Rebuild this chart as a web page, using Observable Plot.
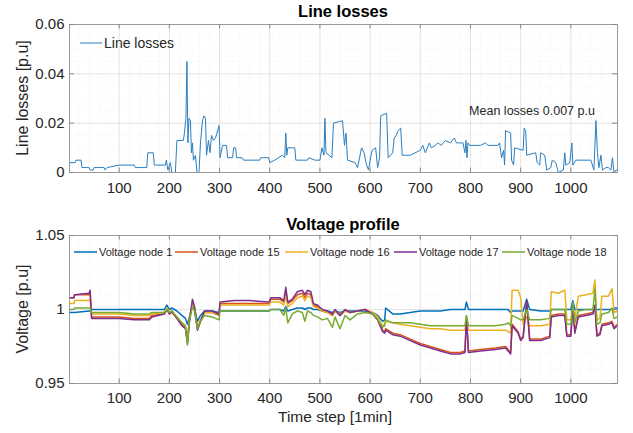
<!DOCTYPE html>
<html>
<head>
<meta charset="utf-8">
<script src="https://cdn.jsdelivr.net/npm/d3@7"></script>
<script src="https://cdn.jsdelivr.net/npm/@observablehq/plot@0.6"></script>
<style>
  html, body { margin: 0; padding: 0; background: #fff; }
  #chart { width: 633px; height: 433px; }
  #chart svg { display: block; }
</style>
</head>
<body>
<div id="chart"></div>
<script>
// ---------- DATA ----------
const xTicks = [100, 200, 300, 400, 500, 600, 700, 800, 900, 1000];
const lossTicks = [0, 0.02, 0.04, 0.06];
const voltTicks = [0.95, 1, 1.05];

const lossT = [1,12,14,24,26,40,42,48,50,70,72,76,100,130,132,155,157,168,170,192,194,197,202,205,212,215,228,230,233,235,237,239,242,244,246,248,252,255,259,262,266,269,272,274,278,281,284,288,292,299,301,306,314,316,326,328,332,334,345,348,380,382,398,400,410,425,430,432,434,436,450,452,475,478,490,500,504,508,510,512,524,527,545,549,552,555,570,575,578,583,588,593,597,600,604,611,615,619,621,633,636,645,648,652,656,661,664,680,700,705,710,718,722,730,735,742,750,760,768,772,785,789,791,793,795,798,820,830,835,855,858,862,866,868,870,880,882,886,888,905,907,910,912,930,933,938,940,948,952,960,963,970,975,985,988,990,998,1002,1004,1010,1040,1046,1050,1053,1056,1060,1063,1070,1075,1080,1083,1086,1090,1093];
const lossV = [0.004,0.004,0.005,0.005,0.002,0.002,0.001,0.001,0.002,0.002,0.001,0.002,0.003,0.003,0.002,0.002,0.008,0.008,0.003,0.003,0.005,0.001,0.004,0.0,0.0,0.013,0.013,0.016,0.022,0.045,0.012,0.022,0.021,0.008,0.012,0.005,0.007,0.0,0.0,0.012,0.021,0.023,0.022,0.007,0.013,0.008,0.015,0.013,0.014,0.019,0.006,0.011,0.011,0.006,0.006,0.010,0.010,0.006,0.006,0.005,0.005,0.006,0.006,0.004,0.005,0.007,0.006,0.016,0.007,0.010,0.010,0.005,0.005,0.006,0.005,0.005,0.010,0.007,0.022,0.008,0.006,0.020,0.021,0.011,0.016,0.005,0.004,0.002,0.005,0.010,0.008,0.003,0.001,0.005,0.009,0.010,0.002,0.006,0.023,0.024,0.006,0.008,0.014,0.015,0.017,0.018,0.007,0.007,0.009,0.011,0.008,0.012,0.010,0.011,0.012,0.011,0.013,0.012,0.014,0.012,0.012,0.008,0.013,0.006,0.012,0.011,0.011,0.012,0.011,0.011,0.012,0.006,0.009,0.003,0.017,0.016,0.005,0.003,0.010,0.009,0.018,0.017,0.007,0.008,0.004,0.003,0.008,0.007,0.001,0.002,0.005,0.004,0.0,0.001,0.008,0.003,0.004,0.012,0.003,0.005,0.005,0.001,0.021,0.008,0.002,0.007,0.001,0.002,0.002,0.001,0.006,0.0,0.001,0.001];

const voltT = [1,10,11,40,42,45,60,100,130,160,165,190,195,200,205,215,225,232,236,240,246,250,256,262,270,285,299,301,330,360,399,402,420,428,432,436,445,455,465,470,475,482,487,495,505,515,525,530,540,550,560,575,590,605,615,625,629,631,645,660,680,700,720,740,760,780,789,792,796,820,850,870,875,880,883,895,900,905,912,918,940,958,961,975,988,992,1000,1004,1008,1015,1030,1044,1048,1052,1058,1062,1075,1082,1086,1093];
const voltNode1 = [0.998,0.998,0.998,0.999,0.999,1.000,1.000,1.000,1.000,1.000,1.000,1.000,1.003,1.000,1.001,0.999,0.996,0.994,0.990,0.995,1.003,1.001,0.992,0.996,0.999,0.999,0.998,0.999,0.999,0.999,0.999,1.000,1.000,0.999,1.002,0.999,1.000,1.001,1.001,1.000,1.001,1.001,1.000,1.000,0.999,0.999,0.998,0.999,0.998,0.999,0.999,0.999,0.999,0.998,0.996,0.992,0.993,1.001,0.997,0.997,0.998,0.999,0.999,0.999,1.000,1.000,1.000,1.005,1.000,1.000,1.000,1.000,1.000,0.998,0.999,0.999,0.999,0.999,1.007,1.000,0.999,0.999,1.000,1.000,1.000,1.000,1.000,1.006,1.000,1.000,1.000,1.000,1.001,1.000,1.000,1.000,1.000,1.000,1.001,1.001];
const voltNode15 = [1.008,1.008,1.010,1.010,1.012,0.995,0.995,0.995,0.994,0.994,0.996,0.997,1.000,0.997,0.998,0.994,0.990,0.988,0.978,0.993,1.005,1.001,0.987,0.992,0.998,0.998,0.996,1.004,1.004,1.004,1.004,1.007,1.007,1.005,1.012,1.004,1.006,1.010,1.011,1.008,1.011,1.010,1.003,1.002,0.999,0.998,0.996,0.999,0.996,0.999,0.998,0.999,1.000,0.997,0.993,0.986,0.985,0.987,0.984,0.983,0.980,0.977,0.975,0.973,0.971,0.971,0.972,0.994,0.972,0.973,0.974,0.975,0.973,0.971,0.990,0.985,0.980,0.982,1.005,0.980,0.980,0.982,0.996,0.997,0.997,0.983,0.983,1.002,0.985,0.996,0.997,0.998,1.002,0.983,0.984,0.990,0.991,0.992,0.988,0.990];
const voltNode16 = [1.004,1.004,1.006,1.006,1.007,0.997,0.997,0.997,0.996,0.996,0.997,0.998,1.001,0.998,0.999,0.995,0.991,0.989,0.980,0.994,1.004,1.001,0.988,0.993,0.998,0.998,0.997,1.003,1.003,1.003,1.003,1.005,1.005,1.003,1.009,1.002,1.004,1.008,1.009,1.006,1.009,1.008,1.002,1.001,0.999,0.998,0.997,0.999,0.997,0.999,0.998,0.999,1.000,0.998,0.995,0.989,0.990,0.992,0.991,0.990,0.989,0.988,0.987,0.987,0.986,0.986,0.986,0.993,0.986,0.986,0.986,0.986,0.985,0.984,1.013,1.013,1.008,0.990,0.995,0.989,0.989,0.990,1.012,1.011,1.013,0.993,0.993,0.999,0.994,1.009,1.010,1.011,1.020,0.993,0.994,1.009,1.009,1.014,0.998,0.999];
const voltNode17 = [1.008,1.008,1.010,1.011,1.013,0.994,0.994,0.994,0.993,0.993,0.995,0.997,1.000,0.997,0.999,0.994,0.989,0.987,0.977,0.992,1.007,1.002,0.986,0.992,0.999,0.999,0.997,1.005,1.006,1.006,1.005,1.008,1.008,1.006,1.015,1.005,1.007,1.012,1.013,1.010,1.013,1.012,1.004,1.003,1.000,0.999,0.997,1.000,0.996,1.000,0.998,0.999,1.000,0.997,0.993,0.985,0.984,0.986,0.983,0.982,0.979,0.976,0.974,0.972,0.970,0.970,0.971,0.995,0.971,0.972,0.973,0.974,0.972,0.970,0.989,0.984,0.979,0.981,1.006,0.979,0.979,0.981,0.995,0.996,0.996,0.982,0.982,1.003,0.984,0.995,0.996,0.997,1.003,0.982,0.983,0.989,0.990,0.991,0.987,0.989];
const voltNode18 = [1.000,1.000,1.001,1.001,1.001,0.998,0.998,0.998,0.997,0.997,0.998,0.998,1.000,0.998,0.999,0.995,0.991,0.989,0.976,0.992,1.002,0.999,0.987,0.992,0.996,0.995,0.993,0.999,0.999,0.999,0.999,1.000,1.000,0.996,1.001,0.991,0.997,0.999,0.998,0.992,0.999,0.998,0.996,0.995,0.993,0.994,0.988,0.995,0.987,0.996,0.993,0.997,0.998,0.997,0.993,0.988,0.989,0.993,0.991,0.991,0.991,0.990,0.989,0.989,0.989,0.989,0.989,0.996,0.989,0.989,0.989,0.990,0.991,0.989,0.996,0.994,0.993,0.993,1.000,0.993,0.993,0.994,1.000,1.000,1.000,0.990,0.990,1.005,0.991,0.999,1.000,1.000,1.014,0.990,0.991,0.997,0.998,1.001,0.994,0.995];

const seriesNames = ["Voltage node 1", "Voltage node 15", "Voltage node 16", "Voltage node 17", "Voltage node 18"];
const seriesValues = [voltNode1, voltNode15, voltNode16, voltNode17, voltNode18];

// ---------- BUILD ----------
const colors = ["#0072BD", "#D95319", "#EDB120", "#7E2F8E", "#77AC30"];
const font = "'Liberation Sans', Arial, sans-serif";
const xDomain = [1, 1093];
const xMinor = d3.range(20, 1093, 20).filter(d => d % 100 !== 0);

const lossRows = lossT.map((t, i) => ({t, v: lossV[i]}));
const voltRows = seriesNames.flatMap((name, s) => voltT.map((t, i) => ({t, v: seriesValues[s][i], name})));

const fmt = d => String(+(+d).toFixed(3));
const gridMajor = {stroke: "#dcdcdc", strokeOpacity: 1, strokeWidth: 0.8};
const gridMinor = {stroke: "#ececec", strokeOpacity: 1, strokeWidth: 0.6, strokeDasharray: "1,1.5"};

function inTicks(yDom, yT) {
  const dy = (yDom[1] - yDom[0]) * 0.03;
  const dx = (xDomain[1] - xDomain[0]) * 0.009;
  return [
    Plot.ruleX(xTicks, {y1: yDom[0], y2: yDom[0] + dy, stroke: "#888"}),
    Plot.ruleX(xTicks, {y1: yDom[1], y2: yDom[1] - dy, stroke: "#888"}),
    Plot.ruleY(yT, {x1: xDomain[0], x2: xDomain[0] + dx, stroke: "#888"}),
    Plot.ruleY(yT, {x1: xDomain[1], x2: xDomain[1] - dx, stroke: "#888"})
  ];
}

const lossDom = [0, 0.06];
const p1 = Plot.plot({
  width: 633, height: 200,
  marginLeft: 69, marginRight: 16, marginTop: 24, marginBottom: 28,
  style: {fontFamily: font, fontSize: "15px", color: "#262626", background: "white"},
  x: {domain: xDomain, label: null},
  y: {domain: lossDom, label: null},
  marks: [
    Plot.gridX(xMinor, gridMinor),
    Plot.gridY(d3.range(0.005, 0.06, 0.005).filter((d, i) => (i + 1) % 4 !== 0), gridMinor),
    Plot.gridX(xTicks, gridMajor),
    Plot.gridY(lossTicks, gridMajor),
    Plot.line(lossRows, {x: "t", y: "v", stroke: "#2a7fc1", strokeWidth: 1}),
    Plot.frame({stroke: "#9a9a9a"}),
    ...inTicks(lossDom, lossTicks),
    Plot.axisX(xTicks, {tickSize: 0, tickPadding: 10, fontSize: 15, tickFormat: fmt}),
    Plot.axisY(lossTicks, {tickSize: 0, tickPadding: 5, fontSize: 15, tickFormat: fmt})
  ]
});

const voltDom = [0.95, 1.05];
const p2 = Plot.plot({
  width: 633, height: 233,
  marginLeft: 69, marginRight: 16, marginTop: 35, marginBottom: 50,
  style: {fontFamily: font, fontSize: "15px", color: "#262626", background: "white"},
  x: {domain: xDomain, label: null},
  y: {domain: voltDom, label: null},
  color: {domain: seriesNames, range: colors},
  marks: [
    Plot.gridX(xMinor, gridMinor),
    Plot.gridY(d3.range(0.96, 1.05, 0.01).filter(d => Math.abs(d - 1) > 1e-6), gridMinor),
    Plot.gridX(xTicks, gridMajor),
    Plot.gridY(voltTicks, gridMajor),
    Plot.line(voltRows, {x: "t", y: "v", z: "name", stroke: "name", strokeWidth: 1.5}),
    Plot.frame({stroke: "#9a9a9a"}),
    ...inTicks(voltDom, voltTicks),
    Plot.axisX(xTicks, {tickSize: 0, tickPadding: 9, fontSize: 15, tickFormat: fmt}),
    Plot.axisY(voltTicks, {tickSize: 0, tickPadding: 5, fontSize: 15, tickFormat: fmt})
  ]
});

const chart = document.getElementById("chart");
chart.appendChild(p1);
chart.appendChild(p2);

// ---------- layout text (titles, axis labels, legends, annotation) ----------
function addText(svg, txt, x, y, opts = {}) {
  const t = d3.select(svg).append("text")
    .attr("x", x).attr("y", y).attr("dy", "0.35em")
    .attr("text-anchor", opts.anchor || "middle")
    .attr("font-family", font)
    .attr("font-size", opts.size || 15)
    .attr("font-weight", opts.weight || "normal")
    .attr("fill", opts.fill || "#262626")
    .text(txt);
  if (opts.rotate) t.attr("transform", `rotate(${opts.rotate},${x},${y})`);
  return t;
}
function addLegend(svg, entries, y, size) {
  const g = d3.select(svg).append("g");
  entries.forEach(e => {
    g.append("line").attr("x1", e.x).attr("x2", e.x + e.len).attr("y1", y).attr("y2", y)
      .attr("stroke", e.color).attr("stroke-width", e.w);
    g.append("text").attr("x", e.x + e.len + 2).attr("y", y).attr("dy", "0.35em")
      .attr("text-anchor", "start").attr("font-family", font).attr("font-size", size)
      .attr("fill", "#262626").text(e.label);
  });
}

addText(p1, "Line losses", 343, 11, {size: 16.5, weight: "bold", fill: "#000"});
addText(p1, "Line losses [p.u]", 22, 98, {size: 16, rotate: -90});
addText(p1, "Mean losses 0.007 p.u", 532, 111, {size: 12.5});
addLegend(p1, [{x: 80, len: 22, color: "#2a7fc1", w: 1, label: "Line losses"}], 43, 14);

addText(p2, "Voltage profile", 343, 24, {size: 16.5, weight: "bold", fill: "#000"});
addText(p2, "Voltage [p.u]", 22, 109, {size: 16, rotate: -90});
addText(p2, "Time step [1min]", 335, 217, {size: 15.5});
const legX = [74, 175, 285, 394, 502];
addLegend(p2, seriesNames.map((n, i) => ({x: legX[i], len: 23, color: colors[i], w: 1.5, label: n})), 52, 11);
</script>
</body>
</html>
